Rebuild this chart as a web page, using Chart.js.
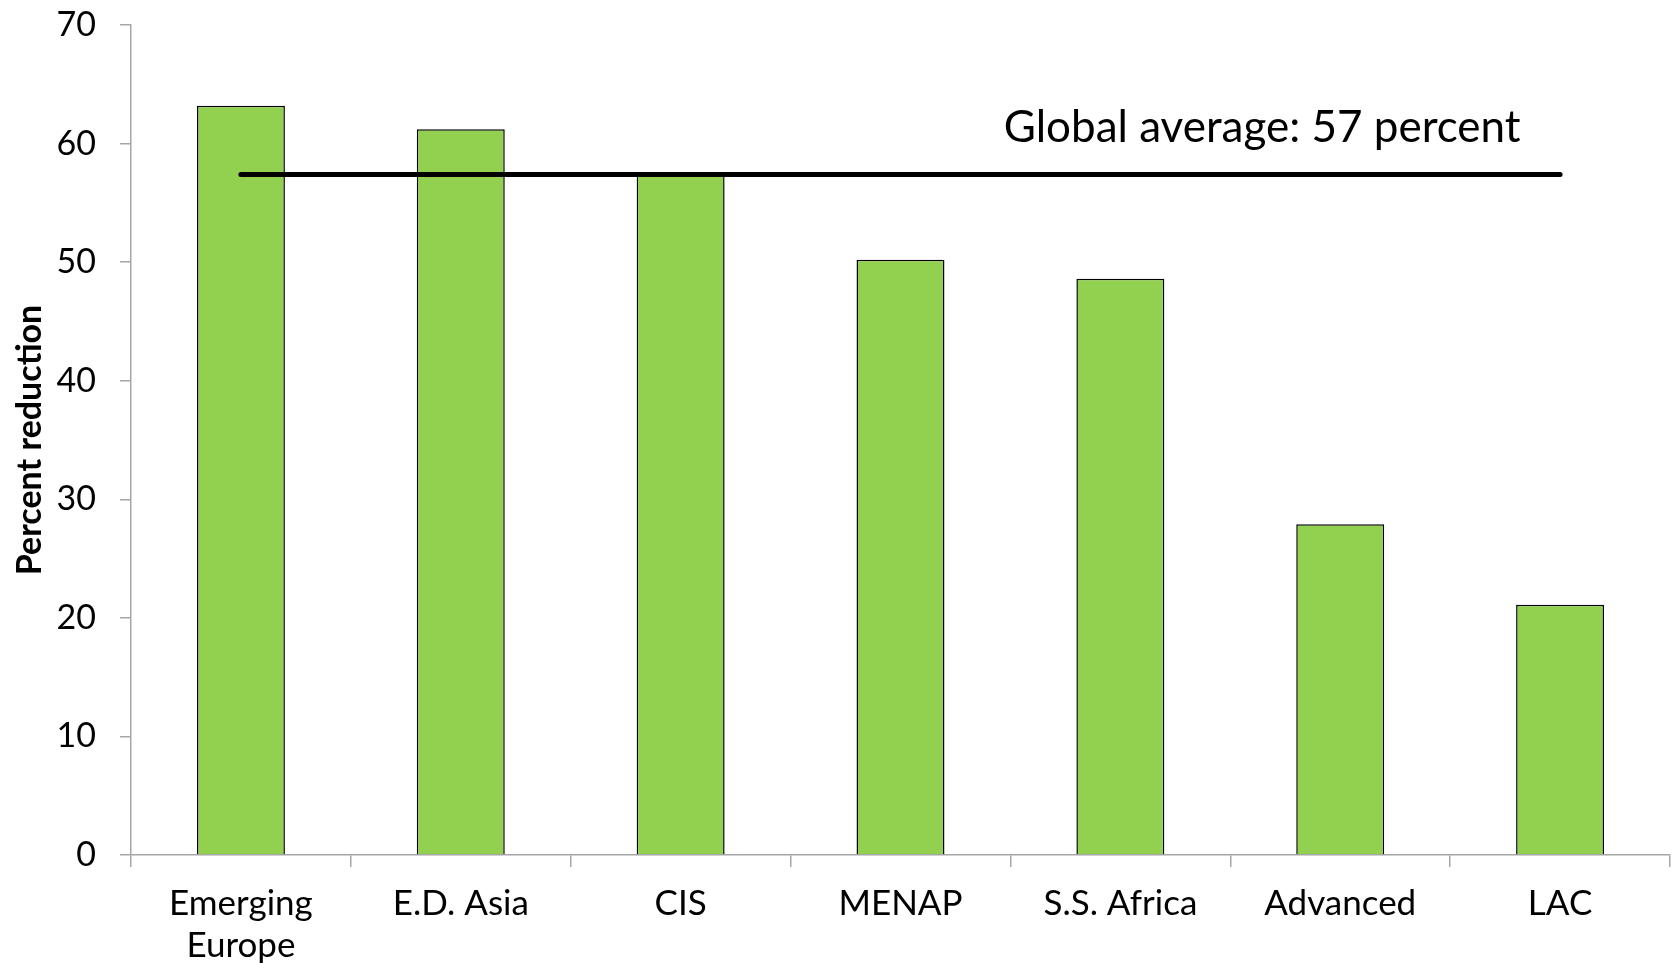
<!DOCTYPE html>
<html>
<head>
<meta charset="utf-8">
<script src="https://cdn.jsdelivr.net/npm/chart.js@4/dist/chart.umd.min.js"></script>
<style>
    html, body { margin: 0; padding: 0; background: #fff; }
    #wrap { width: 1673px; height: 964px; }
</style>
</head>
<body>
<div id="wrap"><canvas id="reduction-chart" width="1673" height="964"></canvas></div>
<script>
// ------------------------------------------------------------
// DATA
// ------------------------------------------------------------
const regions = [["Emerging", "Europe"], "E.D. Asia", "CIS", "MENAP", "S.S. Africa", "Advanced", "LAC"];
const reduction = [63.2, 61.2, 57.6, 50.2, 48.6, 27.9, 21.1];
const globalAverage = 57.4;
const globalLabel = "Global average: 57 percent";
const yTicks = [0, 10, 20, 30, 40, 50, 60, 70];

const FONT = "Lato, 'Noto Sans', sans-serif";
const AXIS_GREY = "#a6a6a6";

// annotation text above the average line
const avgLabelPlugin = {
    id: "avgLabel",
    afterDatasetsDraw(chart) {
        const { ctx, scales } = chart;
        const x = scales.x.getPixelForDecimal(0.735);
        const y = scales.y.getPixelForValue(61.3);
        ctx.save();
        ctx.font = "44px " + FONT;
        ctx.fillStyle = "#000";
        ctx.textAlign = "center";
        ctx.textBaseline = "middle";
        ctx.fillText(globalLabel, x, y);
        ctx.restore();
    }
};

function initChart() {
    const ctx = document.getElementById("reduction-chart").getContext("2d");

    new Chart(ctx, {
        data: {
            labels: regions,
            datasets: [
                {
                    type: "line",
                    label: "Global average",
                    data: regions.map(() => globalAverage),
                    borderColor: "#000",
                    borderWidth: 5,
                    borderCapStyle: "round",
                    pointRadius: 0,
                    order: 0
                },
                {
                    type: "bar",
                    label: "Percent reduction",
                    data: reduction,
                    backgroundColor: "#92d050",
                    borderColor: "#000",
                    borderWidth: 1.5,
                    categoryPercentage: 1,
                    barPercentage: 0.4,
                    order: 1
                }
            ]
        },
        options: {
            responsive: false,
            animation: false,
            layout: { padding: { top: 25, right: 3, left: 0, bottom: 0 } },
            plugins: {
                legend: { display: false },
                tooltip: { enabled: false }
            },
            scales: {
                x: {
                    offset: true,
                    grid: {
                        offset: true,
                        drawOnChartArea: false,
                        color: AXIS_GREY,
                        lineWidth: 1.5,
                        tickLength: 12
                    },
                    border: { color: AXIS_GREY, width: 1.5 },
                    ticks: {
                        color: "#000",
                        font: { family: FONT, size: 35, lineHeight: 1.22 },
                        padding: 15,
                        maxRotation: 0
                    },
                    afterFit(scale) { scale.height = 109; }
                },
                y: {
                    min: 0,
                    max: 70,
                    afterBuildTicks(scale) { scale.ticks = yTicks.map(v => ({ value: v })); },
                    grid: {
                        drawOnChartArea: false,
                        color: AXIS_GREY,
                        lineWidth: 1.5,
                        tickLength: 11
                    },
                    border: { color: AXIS_GREY, width: 1.5 },
                    ticks: {
                        color: "#000",
                        font: { family: FONT, size: 34 },
                        padding: 24
                    },
                    title: {
                        display: true,
                        text: "Percent reduction",
                        color: "#000",
                        font: { family: FONT, size: 34, weight: "bold" },
                        padding: { top: 10, bottom: 0 }
                    },
                    afterFit(scale) {
                        scale.width = 131;
                        // tick padding shouldn't push the plot area down
                        scale.paddingTop = 0;
                        scale.paddingBottom = 0;
                    }
                }
            }
        },
        plugins: [avgLabelPlugin]
    });
}

document.addEventListener("DOMContentLoaded", initChart);
</script>
</body>
</html>
